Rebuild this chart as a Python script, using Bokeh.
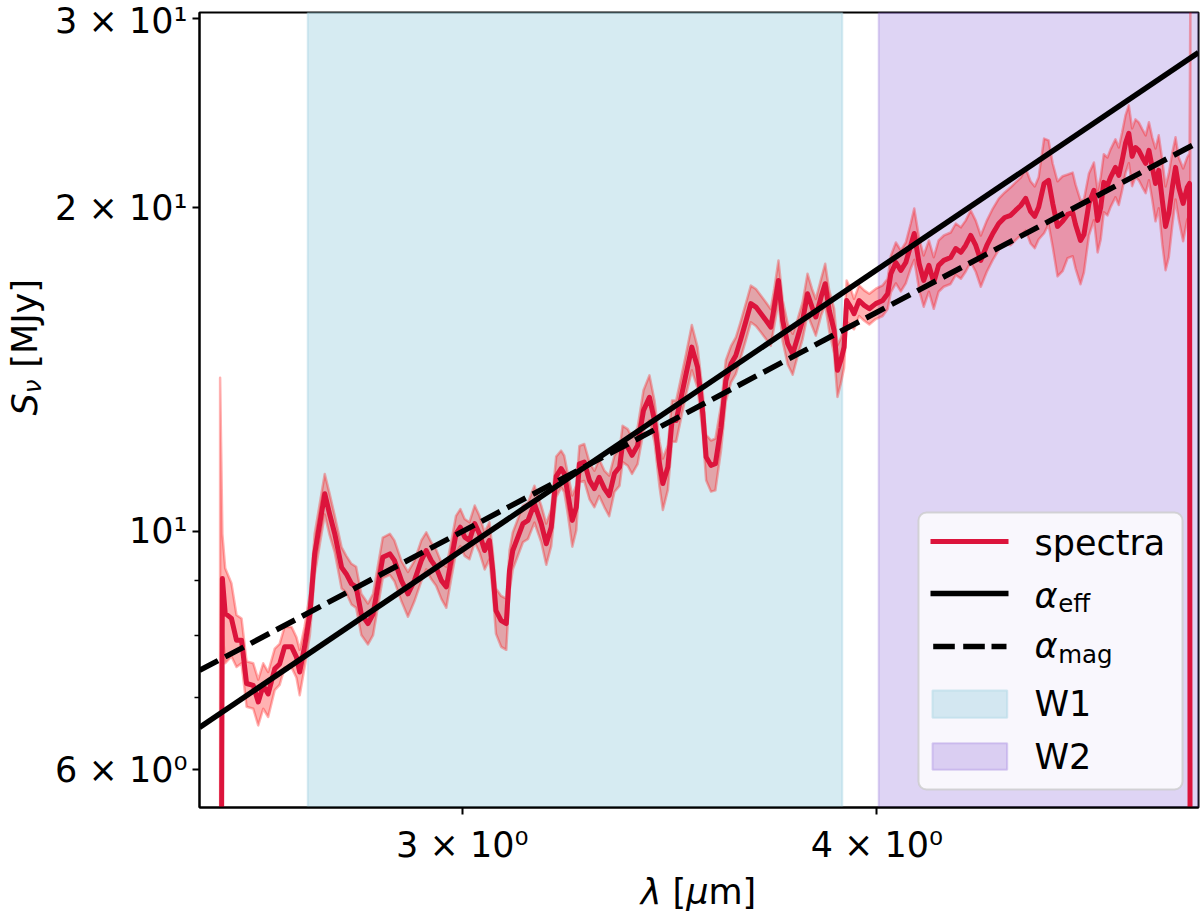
import numpy as np
from bokeh.plotting import figure
from bokeh.models import BoxAnnotation, Label, FixedTicker, Range1d
from bokeh.layouts import column, row
from bokeh.embed import file_html
from bokeh.resources import INLINE

# ---------------- data ----------------
lam = [2.536, 2.540, 2.545, 2.556, 2.565, 2.574, 2.583, 2.595, 2.604, 2.613,
       2.622, 2.634, 2.643, 2.652, 2.665, 2.674, 2.680, 2.689, 2.699, 2.708,
       2.727, 2.736, 2.746, 2.759, 2.768, 2.778, 2.787, 2.797, 2.810, 2.820,
       2.839, 2.853, 2.862, 2.876, 2.889, 2.902, 2.916, 2.926, 2.936, 2.946,
       2.957, 2.967, 2.977, 2.987, 2.996, 3.005, 3.015, 3.026, 3.036, 3.047,
       3.057, 3.064, 3.071, 3.082, 3.093, 3.100, 3.107, 3.118, 3.129, 3.140,
       3.154, 3.169, 3.180, 3.191, 3.202, 3.213, 3.220, 3.228, 3.238, 3.247,
       3.254, 3.265, 3.277, 3.288, 3.299, 3.311, 3.322, 3.334, 3.346, 3.353,
       3.365, 3.375, 3.388, 3.402, 3.416, 3.428, 3.440, 3.448, 3.460, 3.470,
       3.480, 3.492, 3.504, 3.518, 3.532, 3.545, 3.553, 3.565, 3.576, 3.590,
       3.602, 3.615, 3.627, 3.640, 3.653, 3.665, 3.678, 3.691, 3.704, 3.716,
       3.725, 3.736, 3.747, 3.760, 3.773, 3.786, 3.799, 3.812, 3.824, 3.834,
       3.848, 3.859, 3.870, 3.883, 3.892, 3.901, 3.910, 3.917, 3.928, 3.937,
       3.951, 3.965, 3.979, 3.997, 4.016, 4.030, 4.039, 4.053, 4.067, 4.081,
       4.095, 4.105, 4.119, 4.132, 4.147, 4.161, 4.175, 4.190, 4.210, 4.225,
       4.240, 4.254, 4.269, 4.284, 4.299, 4.317, 4.335, 4.353, 4.371, 4.389,
       4.404, 4.420, 4.435, 4.450, 4.463, 4.475, 4.492, 4.506, 4.519, 4.534,
       4.550, 4.566, 4.582, 4.591, 4.607, 4.618, 4.634, 4.650, 4.662, 4.672,
       4.682, 4.694, 4.704, 4.720, 4.731, 4.742, 4.753, 4.764, 4.775, 4.786,
       4.797, 4.809, 4.820, 4.831, 4.842, 4.853, 4.864, 4.876, 4.887, 4.898,
       4.910, 4.921, 4.932, 4.947, 4.961, 4.969, 4.972]

flux = [2.0, 9.04, 8.39, 8.30, 7.92, 7.92, 7.22, 7.19, 6.94, 7.19,
        7.06, 7.45, 7.53, 7.81, 7.81, 7.64, 7.40, 7.81, 8.38, 9.53,
        10.84, 10.39, 9.95, 9.26, 9.13, 8.94, 8.88, 8.38, 8.21, 8.38,
        9.46, 9.53, 9.40, 9.00, 8.75, 9.00, 9.40, 9.60, 9.40, 9.26,
        9.00, 8.88, 9.40, 9.95, 10.09, 9.88, 9.81, 10.17, 9.95, 9.60,
        9.81, 9.20, 8.44, 8.26, 8.21, 9.20, 9.60, 9.88, 10.17, 10.24,
        10.61, 10.17, 9.74, 10.09, 11.25, 11.44, 11.32, 10.84, 10.24, 10.53,
        11.56, 11.60, 11.15, 10.96, 11.23, 10.96, 10.80, 11.32, 11.48, 12.07,
        11.98, 11.77, 12.02, 12.96, 13.33, 12.68, 11.56, 11.08, 11.48, 12.68,
        12.68, 13.33, 14.02, 14.84, 14.22, 12.87, 11.73, 11.52, 11.56, 12.50,
        13.82, 14.32, 14.58, 15.12, 15.71, 16.29, 16.17, 15.94, 15.71, 15.49,
        16.17, 17.12, 15.71, 14.95, 14.63, 15.16, 15.71, 16.64, 16.17, 15.83,
        16.52, 17.00, 16.05, 15.38, 14.12, 14.42, 14.84, 16.40, 16.17, 15.94,
        16.40, 16.23, 16.11, 16.29, 16.40, 16.64, 17.37, 17.79, 17.49, 17.79,
        18.45, 18.93, 17.75, 17.12, 17.68, 17.05, 17.68, 17.87, 17.98, 18.33,
        18.18, 18.45, 18.85, 18.45, 17.87, 18.45, 18.93, 19.34, 19.59, 19.68,
        19.89, 20.10, 20.41, 19.85, 19.64, 20.02, 21.07, 21.21, 20.19, 19.22,
        19.43, 19.72, 19.80, 19.30, 18.65, 18.89, 20.19, 20.76, 19.47, 20.02,
        21.12, 20.98, 21.35, 21.81, 21.44, 22.14, 22.96, 23.46, 22.33, 22.76,
        22.62, 22.28, 22.00, 22.62, 21.81, 21.07, 21.67, 20.32, 19.22, 19.76,
        20.89, 21.81, 20.89, 20.19, 20.89, 21.07, 2.0]

err = [11.9, 0.91, 0.85, 0.65, 0.44, 0.38, 0.35, 0.35, 0.34, 0.35,
       0.34, 0.33, 0.33, 0.34, 0.34, 0.33, 0.36, 0.34, 0.37, 0.42,
       0.47, 0.46, 0.39, 0.41, 0.36, 0.39, 0.39, 0.37, 0.36, 0.37,
       0.41, 0.42, 0.41, 0.39, 0.42, 0.39, 0.41, 0.38, 0.37, 0.36,
       0.35, 0.39, 0.37, 0.39, 0.40, 0.39, 0.39, 0.40, 0.39, 0.38,
       0.39, 0.40, 0.41, 0.45, 0.45, 0.40, 0.38, 0.39, 0.40, 0.40,
       0.42, 0.40, 0.43, 0.40, 0.49, 0.45, 0.44, 0.47, 0.56, 0.51,
       0.45, 0.46, 0.44, 0.43, 0.44, 0.43, 0.47, 0.44, 0.45, 0.47,
       0.47, 0.46, 0.47, 0.57, 0.64, 0.56, 0.56, 0.61, 0.55, 0.56,
       0.56, 0.58, 0.61, 0.72, 0.62, 0.56, 0.57, 0.63, 0.64, 0.60,
       0.61, 0.56, 0.57, 0.59, 0.62, 0.64, 0.64, 0.63, 0.62, 0.61,
       0.64, 0.75, 0.69, 0.65, 0.64, 0.60, 0.62, 0.73, 0.64, 0.62,
       0.65, 0.74, 0.70, 0.74, 0.78, 0.70, 0.65, 0.72, 0.64, 0.52,
       0.54, 0.53, 0.53, 0.53, 0.54, 0.54, 0.68, 0.78, 0.77, 0.78,
       0.89, 1.04, 0.98, 0.94, 0.97, 0.94, 0.97, 0.98, 0.99, 1.01,
       1.00, 1.01, 1.04, 1.01, 0.98, 1.01, 1.04, 1.06, 1.08, 1.22,
       1.23, 1.24, 1.36, 1.32, 1.30, 1.33, 2.13, 1.90, 1.80, 1.95,
       1.97, 1.76, 1.77, 1.73, 1.67, 1.47, 1.34, 1.28, 1.29, 1.33,
       1.31, 1.30, 1.32, 1.35, 1.32, 1.37, 1.42, 1.45, 1.38, 1.41,
       1.40, 1.38, 1.36, 1.40, 1.45, 1.64, 1.69, 1.82, 1.72, 1.77,
       1.63, 1.45, 1.39, 1.57, 1.39, 1.40, 30.0]

assert len(lam) == len(flux) == len(err)

# power-law fits, evaluated at the plot's x limits
fit_lam = [2.5, 5.0]
S_eff = [6.572, 27.90]
S_mag = [7.425, 23.02]

# WISE bands (um)
w1_band = [2.695, 3.905]
w2_band = [4.005, 5.2]

x_limits = [2.5, 5.0]
y_limits = [5.536, 30.39]
x_ticks = [3, 4]
x_tick_labels = ["3 × 10⁰", "4 × 10⁰"]
y_ticks = [6, 10, 20, 30]
y_tick_labels = ["6 × 10⁰", "10¹", "2 × 10¹", "3 × 10¹"]
y_minor_ticks = [7, 8, 9]

# ---------------- styling / layout ----------------
FONT = "DejaVu Sans"
FS = "35px"
FS_SUB = "24.5px"
OFF = 13      # baseline correction for 35px text
OFF_SUB = 9   # baseline correction for subscript text

YLAB_W = 52
MAIN_W, MAIN_H = 1200 - YLAB_W, 870
XLAB_H = 913 - MAIN_H

p = figure(width=MAIN_W, height=MAIN_H, x_axis_type="log", y_axis_type="log",
           x_range=Range1d(*x_limits), y_range=Range1d(*y_limits),
           output_backend="svg", toolbar_location=None,
           min_border_left=198 - YLAB_W, min_border_right=2,
           min_border_top=12, min_border_bottom=MAIN_H - 807)
p.background_fill_color = "white"
p.border_fill_color = "white"
p.grid.visible = False
p.outline_line_color = "black"
p.outline_line_width = 2

for ax in (p.xaxis[0], p.yaxis[0]):
    ax.axis_line_width = 2
    ax.axis_line_color = "black"
    ax.major_tick_line_width = 2
    ax.minor_tick_line_width = 1.5
    ax.major_tick_out = 7
    ax.major_tick_in = 0
    ax.minor_tick_in = 0
    ax.minor_tick_out = 5
    ax.major_label_text_font = FONT
    ax.major_label_text_font_size = FS
    ax.major_label_text_color = "black"

p.xaxis.ticker = FixedTicker(ticks=x_ticks, minor_ticks=[])
p.xaxis.major_label_overrides = dict(zip(x_ticks, x_tick_labels))
p.xaxis.major_label_standoff = 10
p.yaxis.ticker = FixedTicker(ticks=y_ticks, minor_ticks=y_minor_ticks)
p.yaxis.major_label_overrides = dict(zip(y_ticks, y_tick_labels))
p.yaxis.major_label_standoff = 5

# bands
p.add_layout(BoxAnnotation(left=w1_band[0], right=w1_band[1],
                           fill_color="lightblue", fill_alpha=0.5,
                           line_color="lightblue", line_alpha=0.5, line_width=2,
                           level="underlay"))
p.add_layout(BoxAnnotation(left=w2_band[0], right=w2_band[1],
                           fill_color="mediumpurple", fill_alpha=0.3,
                           line_color="mediumpurple", line_alpha=0.3, line_width=2,
                           level="underlay"))

# spectrum with uncertainty band
lam_a = np.array(lam)
flux_a = np.array(flux)
err_a = np.array(err)
upper = flux_a + err_a
lower = np.maximum(flux_a - err_a, 0.1)
p.patch(np.concatenate([lam_a, lam_a[::-1]]), np.concatenate([upper, lower[::-1]]),
        fill_color="red", fill_alpha=0.3, line_color="red", line_alpha=0.3,
        line_width=2.5, line_join="round")
p.line(lam, flux, line_color="crimson", line_width=5, line_join="round")
p.line(fit_lam, S_eff, line_color="black", line_width=5.5)
p.line(fit_lam, S_mag, line_color="black", line_width=5.5, line_dash="21 8")


# ---------------- helpers (screen units, frame-relative) ----------------
def sbox(l, r, b, t, **kw):
    return BoxAnnotation(left=l, right=r, bottom=b, top=t,
                         left_units="screen", right_units="screen",
                         bottom_units="screen", top_units="screen", **kw)


def slabel(x, y, text, size=FS, italic=False, angle=0.0):
    return Label(x=x, y=y, x_units="screen", y_units="screen", text=text,
                 text_font=FONT, text_font_size=size,
                 text_font_style="italic" if italic else "normal",
                 text_color="black", text_align="left",
                 text_baseline="alphabetic", angle=angle)


# ---------------- legend ----------------
p.add_layout(sbox(719, 983, 18, 295, fill_color="white", fill_alpha=0.8,
                  line_color="#cccccc", line_alpha=0.8, line_width=2,
                  border_radius=8))
p.add_layout(sbox(731, 809, 263.5, 268.5, fill_color="crimson", fill_alpha=1.0, line_alpha=0))
p.add_layout(sbox(731, 809, 211.25, 216.75, fill_color="black", fill_alpha=1.0, line_alpha=0))
for a, b in [(733.7, 755.3), (763.7, 785.3), (792, 807)]:
    p.add_layout(sbox(a, b, 158.25, 163.75, fill_color="black", fill_alpha=1.0, line_alpha=0))
p.add_layout(sbox(733, 807.7, 89.7, 117, fill_color="lightblue", fill_alpha=0.5,
                  line_color="lightblue", line_alpha=0.5, line_width=2))
p.add_layout(sbox(733, 807.7, 37.7, 64.3, fill_color="mediumpurple", fill_alpha=0.3,
                  line_color="mediumpurple", line_alpha=0.3, line_width=2))

p.add_layout(slabel(835, 252 + OFF, "spectra"))
p.add_layout(slabel(835, 199 + OFF, "α", italic=True))
p.add_layout(slabel(858.7, 195 + OFF_SUB, "eff", size=FS_SUB))
p.add_layout(slabel(835, 149 + OFF, "α", italic=True))
p.add_layout(slabel(858.7, 144 + OFF_SUB, "mag", size=FS_SUB))
p.add_layout(slabel(835, 90.3 + OFF, "W1"))
p.add_layout(slabel(835, 37.7 + OFF, "W2"))


def blank(width, height):
    f = figure(width=width, height=height, output_backend="svg",
               toolbar_location=None, x_axis_location=None, y_axis_location=None,
               x_range=Range1d(0, 1), y_range=Range1d(0, 1),
               min_border_left=0, min_border_right=0,
               min_border_top=0, min_border_bottom=0)
    f.outline_line_color = None
    f.background_fill_color = "white"
    f.border_fill_color = "white"
    f.grid.visible = False
    return f


# ---------------- y label: S_ν [MJy] (rotated, reads bottom to top) ----------------
ylab = blank(YLAB_W, MAIN_H)
y_base = 37          # x position of the text baseline on the canvas
ylab.add_layout(slabel(y_base - OFF, MAIN_H - 478, "S", italic=True, angle=np.pi / 2))
ylab.add_layout(slabel(y_base + 4 - OFF_SUB, MAIN_H - 455.8, "ν", size=FS_SUB, italic=True,
                       angle=np.pi / 2))
ylab.add_layout(slabel(y_base - OFF, MAIN_H - 430.2, "[MJy]", angle=np.pi / 2))

# ---------------- x label: λ [μm] ----------------
xlab = blank(1200, XLAB_H)
x_base = 913 - 904 + OFF
xlab.add_layout(slabel(640.2, x_base, "λ", italic=True))
xlab.add_layout(slabel(672, x_base, "["))
xlab.add_layout(slabel(685.7, x_base, "μ", italic=True))
xlab.add_layout(slabel(708, x_base, "m]"))

layout = column(row(ylab, p), xlab)
open("out.html", "w").write(file_html(layout, INLINE))
